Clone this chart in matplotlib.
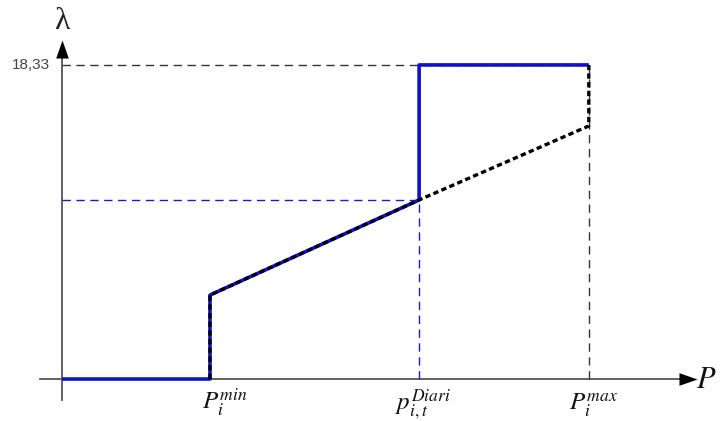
import matplotlib
matplotlib.use("Agg")
import matplotlib.pyplot as plt

plt.rcParams['mathtext.fontset'] = 'stix'

# Key points (arbitrary x units, y in price units)
p_min, p_diari, p_max = 3.0, 7.24, 10.68
lam_min, lam_diari, lam_maxslope, lam_cap = 4.9, 10.45, 14.77, 18.33

blue_x = [0, p_min, p_min, p_diari, p_diari, p_max]
blue_y = [0, 0, lam_min, lam_diari, lam_cap, lam_cap]
black_x = [p_min, p_min, p_diari, p_max, p_max]
black_y = [0, lam_min, lam_diari, lam_maxslope, lam_cap]

cap_label = "18,33"
x_labels = [r'$P_i^{min}$', r'$p_{i,t}^{Diari}$', r'$P_i^{max}$']
label_dx_px = [15, 4, 5]

fig = plt.figure(figsize=(7.2, 4.21), dpi=100)
ax = fig.add_axes([0, 0, 1, 1])
ax.set_xlim(-1.257, 13.34)
ax.set_ylim(-2.45, 22.12)
ax.axis('off')

axc = '#555555'
# axes lines
ax.plot([-0.45, 12.6], [0, 0], color=axc, lw=1.3, zorder=1)
ax.plot([0, 0], [-1.23, 19.0], color=axc, lw=1.3, zorder=1)
up = [(-0.7, -1), (0.7, -1), (0, 1)]
right = [(-1, -0.7), (-1, 0.7), (1, 0)]
ax.plot([12.69], [0], marker=right, color='black', ms=13, mew=0, zorder=5)
ax.plot([0], [19.26], marker=up, color='black', ms=13, mew=0, zorder=5)

# guide lines
dash = (0, (6, 4))
ax.plot([0, p_max], [lam_cap, lam_cap], color='#333333', lw=1.0, ls=dash, zorder=1)
ax.plot([p_max, p_max], [0, lam_cap], color='#333333', lw=1.0, ls=dash, zorder=1)
ax.plot([0, p_diari], [lam_diari, lam_diari], color='#1a1acc', lw=1.0, ls=dash, zorder=1)
ax.plot([p_diari, p_diari], [0, lam_diari], color='#1a1acc', lw=1.0, ls=dash, zorder=1)

# curves
ax.plot(blue_x, blue_y, color='#1010cc', lw=2.6, zorder=3, solid_capstyle='butt')
ax.plot(black_x, black_y, color='black', lw=2.4, ls=(0, (1.6, 1.0)), zorder=4)

# texts
ax.text(-0.25, lam_cap, cap_label, ha='right', va='center', fontsize=11,
        color='#444444', family='Liberation Sans')
ax.text(0, 20.85, 'λ', ha='center', va='center', fontsize=23, color='#222222',
        family='Liberation Serif')
ax.text(12.85, 0, r'$P$', ha='left', va='center', fontsize=22, color='#111111')
for xv, lab, dx in zip([p_min, p_diari, p_max], x_labels, label_dx_px):
    ax.annotate(lab, xy=(xv, -1.8), xytext=(dx * 0.72, 0), textcoords='offset points',
                ha='center', va='baseline', fontsize=18, color='#111111')

fig.savefig('out.png', dpi=100)
